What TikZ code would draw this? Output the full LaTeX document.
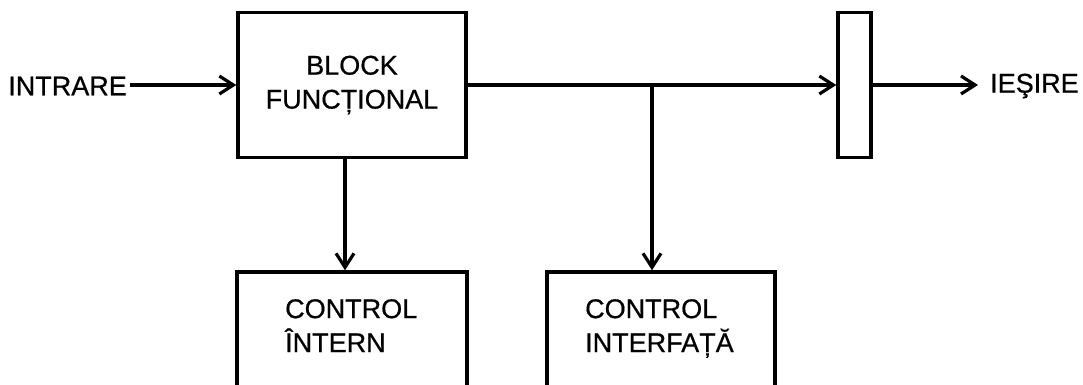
\documentclass[tikz,border=0pt]{standalone}
\usepackage{fontspec}
\setmainfont[FakeBold=0.6]{Liberation Sans}
\usetikzlibrary{arrows.meta}
\begin{document}
\begin{tikzpicture}[x=1pt,y=-1pt,
  blk/.style={draw,line width=3.4pt,inner sep=0pt,minimum width=#1},
  lbl/.style={font=\fontsize{27}{34}\selectfont,inner sep=0pt},
  conn/.style={line width=3.2pt,-{Straight Barb[length=14pt,width=18pt,line width=3.2pt]}}]
  \useasboundingbox (0,0) rectangle (1083,384);
  \clip (0,0) rectangle (1083,384);
  % main block and output latch
  \node[blk=228pt,minimum height=145pt,lbl,align=center] (bf) at (352,85) {BLOCK\\FUNCȚIONAL};
  \node[blk=33pt,minimum height=145pt] (latch) at (854.5,85) {};
  % control blocks (bottom edge runs off the page)
  \node[blk=230pt,minimum height=150pt] (ci) at (352,347) {};
  \node[blk=228pt,minimum height=150pt] (cf) at (661,347) {};
  \node[lbl,align=left,anchor=north west] (tci) at (285,299) {CONTROL\\ÎNTERN};
  \node[lbl,align=left,anchor=north west] (tcf) at (585,299) {CONTROL\\INTERFAȚĂ};
  % terminals
  \node[lbl,anchor=east] (in) at (127,86) {INTRARE};
  \node[lbl,anchor=west] (out) at (990,86) {IEŞIRE};
  \coordinate (d1) at (345,157);
  \coordinate (br) at (652,85);
  % connectors
  \draw[conn] ([xshift=3pt]in.east |- bf.west) -- (bf.west);
  \draw[conn] (bf.east) -- (latch.west);
  \draw[conn] (br) -- (cf.north -| br);
  \draw[conn] (bf.south -| d1) -- (ci.north -| d1);
  \draw[conn] (latch.east) -- ([xshift=-12pt]out.west |- latch.east);
\end{tikzpicture}
\end{document}
